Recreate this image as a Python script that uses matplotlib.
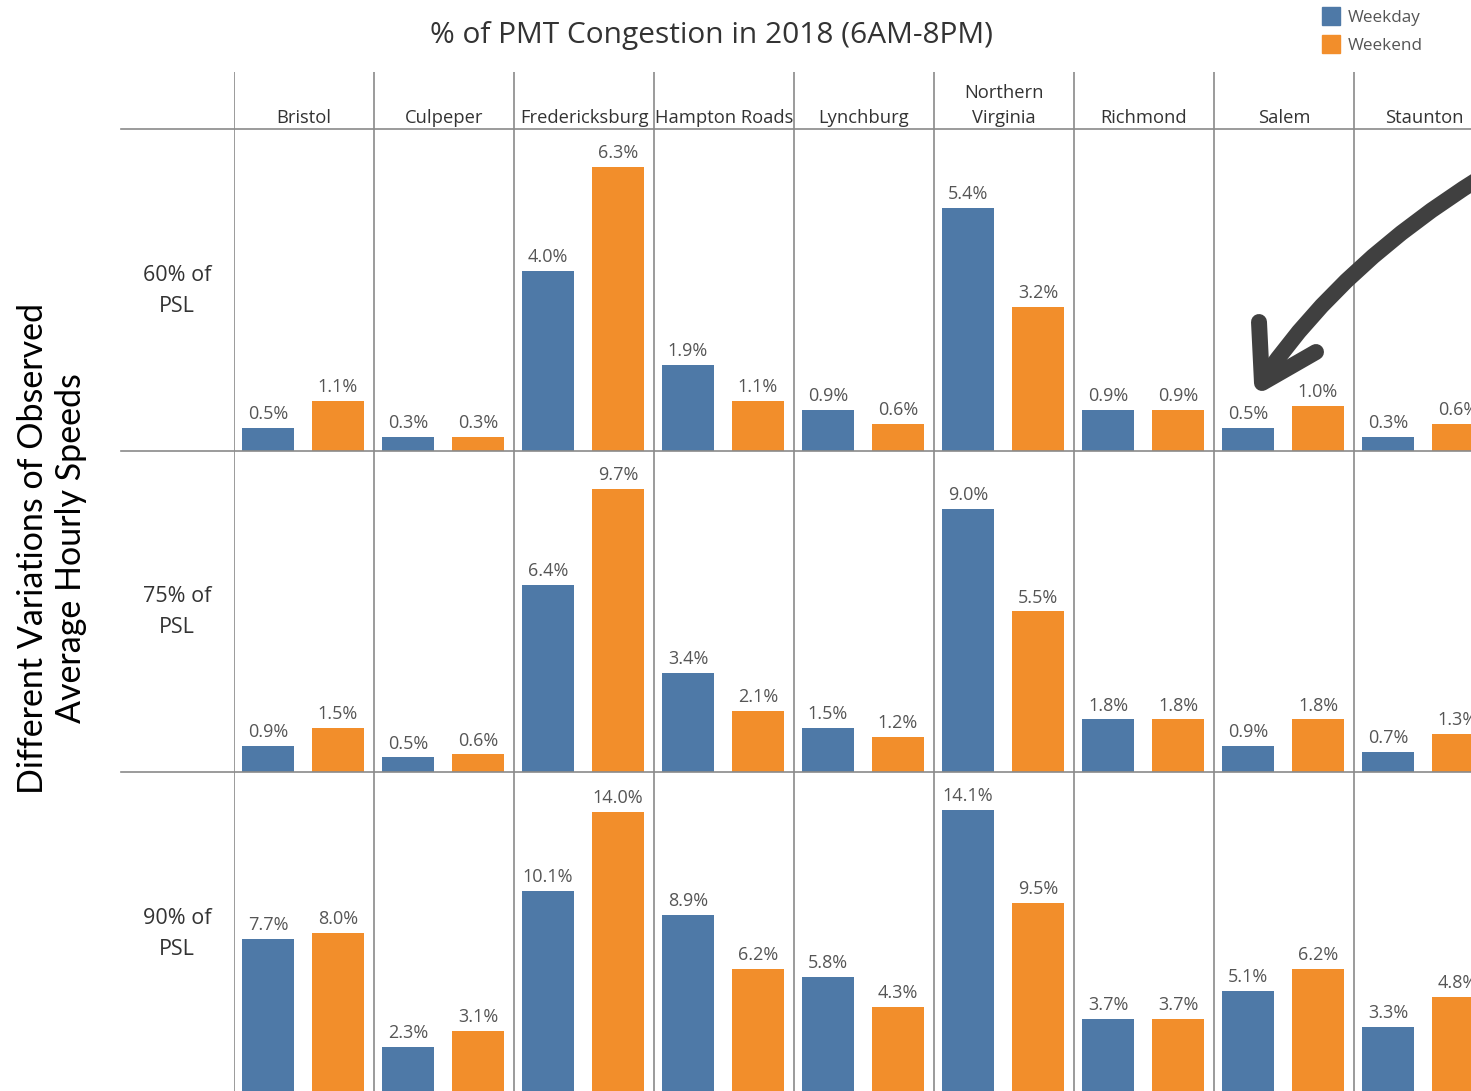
import matplotlib

matplotlib.use("Agg")

import matplotlib.pyplot as plt
from matplotlib.lines import Line2D
from matplotlib.patches import Rectangle, PathPatch
from matplotlib.path import Path

# ---------------------------------------------------------------- data
districts = ["Bristol", "Culpeper", "Fredericksburg", "Hampton Roads", "Lynchburg",
             "Northern\nVirginia", "Richmond", "Salem", "Staunton"]
row_labels = ["60% of\nPSL", "75% of\nPSL", "90% of\nPSL"]

weekday_60 = [0.5, 0.3, 4.0, 1.9, 0.9, 5.4, 0.9, 0.5, 0.3]
weekend_60 = [1.1, 0.3, 6.3, 1.1, 0.6, 3.2, 0.9, 1.0, 0.6]
weekday_75 = [0.9, 0.5, 6.4, 3.4, 1.5, 9.0, 1.8, 0.9, 0.7]
weekend_75 = [1.5, 0.6, 9.7, 2.1, 1.2, 5.5, 1.8, 1.8, 1.3]
weekday_90 = [7.7, 2.3, 10.1, 8.9, 5.8, 14.1, 3.7, 5.1, 3.3]
weekend_90 = [8.0, 3.1, 14.0, 6.2, 4.3, 9.5, 3.7, 6.2, 4.8]

rows = [(weekday_60, weekend_60), (weekday_75, weekend_75), (weekday_90, weekend_90)]

BLUE = "#4e79a7"
ORANGE = "#f28e2b"
GRID = "#8a8a8a"
W, H = 1471, 1091

plt.rcParams["font.family"] = ["Open Sans", "DejaVu Sans"]

fig = plt.figure(figsize=(W / 100, H / 100), dpi=100)
fig.patch.set_facecolor("white")


def fx(x):
    return x / W


def fy(y):
    return 1 - y / H


# grid geometry in pixels
col0, col_w, n_cols = 234, 140, len(districts)
head_top, head_bot = 72, 129
row_h = 321.5

# header axes with district names
hax = fig.add_axes([fx(col0), fy(head_bot), col_w * n_cols / W, (head_bot - head_top) / H])
hax.set_xlim(0, n_cols)
hax.set_ylim(0, 1)
hax.axis("off")
for i, name in enumerate(districts):
    hax.text(i + 0.5, 0.03, name, ha="center", va="bottom", fontsize=13.2,
             color="#333333", linespacing=1.5)
for i in range(n_cols + 1):
    hax.axvline(i, color=GRID, lw=1.2)

# one axes per row
for r, (wd, we) in enumerate(rows):
    top = head_bot + r * row_h
    ax = fig.add_axes([fx(col0), fy(top + row_h), col_w * n_cols / W, row_h / H])
    ax.set_xlim(0, n_cols)
    ax.set_ylim(0, max(wd + we) * 1.135)
    ax.axis("off")
    xs = range(n_cols)
    b1 = ax.bar([x + 0.243 for x in xs], wd, width=0.371, color=BLUE)
    b2 = ax.bar([x + 0.743 for x in xs], we, width=0.371, color=ORANGE)
    for bars, vals in ((b1, wd), (b2, we)):
        for bar, v in zip(bars, vals):
            ax.annotate(f"{v:.1f}%", (bar.get_x() + bar.get_width() / 2, v),
                        xytext=(0, 3.5), textcoords="offset points", ha="center",
                        va="bottom", fontsize=13, color="#555555",
                        annotation_clip=False)
    for i in range(n_cols + 1):
        ax.axvline(i, color=GRID, lw=1.2)
    fig.text(fx(177), fy(top + row_h / 2 + 1), row_labels[r], ha="center", va="center",
             fontsize=15.5, color="#333333", linespacing=1.65)

# horizontal separators extend into the row-header column
for r in range(3):
    y = head_bot + r * row_h
    fig.add_artist(Line2D([fx(121), 1], [fy(y), fy(y)], color=GRID, lw=1.2))

# title, y label, legend
fig.text(fx(712), fy(36), "% of PMT Congestion in 2018 (6AM-8PM)", ha="center",
         va="center", fontsize=21.5, color="#333333")
fig.text(fx(52), fy(548), "Different Variations of Observed\nAverage Hourly Speeds",
         rotation=90, ha="center", va="center", fontsize=24.5, color="black",
         family=["Lato", "DejaVu Sans"], linespacing=1.2)

for k, (lab, c) in enumerate([("Weekday", BLUE), ("Weekend", ORANGE)]):
    y0 = 7 + 28 * k
    fig.add_artist(Rectangle((fx(1322), fy(y0 + 18)), 18 / W, 18 / H, color=c,
                             transform=fig.transFigure))
    fig.text(fx(1348), fy(y0 + 11), lab, ha="left", va="center", fontsize=12.3,
             color="#555555")

# hand-drawn style callout arrow
arrow_col = "#404040"
shaft = Path([(fx(1480), fy(178)), (fx(1345), fy(262)), (fx(1268), fy(372))],
             [Path.MOVETO, Path.CURVE3, Path.CURVE3])
fig.add_artist(PathPatch(shaft, fill=False, lw=11.5, ec=arrow_col, capstyle="round",
                         transform=fig.transFigure))
head = Path([(fx(1259), fy(322)), (fx(1262), fy(383)), (fx(1316), fy(352))],
            [Path.MOVETO, Path.LINETO, Path.LINETO])
fig.add_artist(PathPatch(head, fill=False, lw=11.5, ec=arrow_col, capstyle="round",
                         joinstyle="round", transform=fig.transFigure))

fig.savefig("out.png", dpi=100, facecolor="white")
